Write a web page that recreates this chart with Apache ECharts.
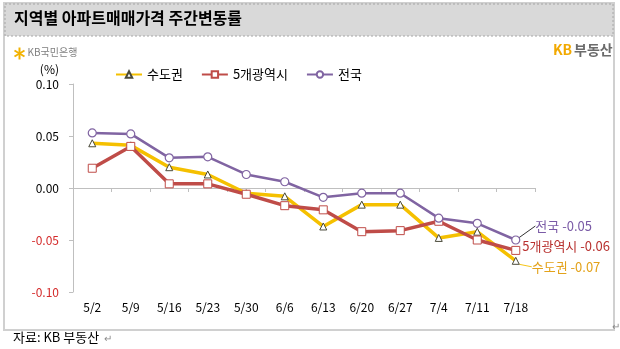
<!DOCTYPE html>
<html>
<head>
<meta charset="utf-8">
<script src="https://cdn.jsdelivr.net/npm/echarts@6/dist/echarts.min.js"></script>
<style>
  html, body { margin: 0; padding: 0; background: #ffffff; }
  #chart { width: 620px; height: 349px; }
</style>
</head>
<body>
<div id="chart"></div>
<script>
// Weekly apartment price change rate by region (%)
const weeks = ['5/2', '5/9', '5/16', '5/23', '5/30', '6/6', '6/13', '6/20', '6/27', '7/4', '7/11', '7/18'];
const capitalArea = [0.043, 0.041, 0.020, 0.013, -0.005, -0.008, -0.037, -0.016, -0.016, -0.048, -0.042, -0.07];
const metroCities = [0.019, 0.040, 0.004, 0.004, -0.006, -0.017, -0.021, -0.042, -0.041, -0.032, -0.050, -0.06];
const nationwide = [0.053, 0.052, 0.029, 0.030, 0.013, 0.006, -0.009, -0.005, -0.005, -0.029, -0.034, -0.05];
const seriesNames = ['수도권', '5개광역시', '전국'];
const yMin = -0.10, yMax = 0.10, yStep = 0.05;

const FONT = '"Noto Sans CJK KR", "Noto Sans", sans-serif';

// Attach a text label to the final week of a series
function withEndLabel(values, name, textColor) {
  return values.map((v, i) => {
    if (i !== values.length - 1) return v;
    return {
      value: v,
      label: {
        show: true,
        position: 'right',
        distance: 4,
        formatter: name + ' ' + v.toFixed(2),
        color: textColor,
        fontSize: 13,
        fontFamily: FONT
      }
    };
  });
}

const chart = echarts.init(document.getElementById('chart'), null, { renderer: 'canvas' });

const option = {
  animation: false,
  backgroundColor: '#ffffff',
  textStyle: { fontFamily: FONT },
  grid: { left: 73, right: 85, top: 84, bottom: 57 },
  legend: {
    top: 63,
    left: 110,
    itemWidth: 26,
    itemHeight: 8,
    itemGap: 18,
    textStyle: { fontSize: 13, color: '#000', fontFamily: FONT },
    data: seriesNames
  },
  xAxis: [
    {
      type: 'category',
      data: weeks,
      position: 'bottom',
      axisLine: { onZero: true, lineStyle: { color: '#bfbfbf', width: 1 } },
      axisTick: { show: true, length: 4, lineStyle: { color: '#bfbfbf' } },
      axisLabel: { show: false }
    },
    {
      type: 'category',
      data: weeks,
      position: 'bottom',
      axisLine: { show: false, onZero: false },
      axisTick: { show: false },
      axisLabel: { show: true, margin: 9, fontSize: 12, color: '#000', fontFamily: FONT }
    }
  ],
  yAxis: {
    type: 'value',
    min: yMin,
    max: yMax,
    interval: yStep,
    name: '(%)',
    nameLocation: 'end',
    nameGap: 9,
    nameTextStyle: { fontSize: 12, color: '#000', align: 'right', padding: [0, 14, 0, 0] },
    axisLine: { show: true, lineStyle: { color: '#bfbfbf', width: 1 } },
    axisTick: { show: true, length: 4, lineStyle: { color: '#bfbfbf' } },
    splitLine: { show: false },
    axisLabel: {
      margin: 14,
      fontSize: 12,
      fontFamily: FONT,
      formatter: v => v.toFixed(2),
      color: v => (v < 0 ? '#d42a2a' : '#000')
    }
  },
  series: [
    {
      name: '수도권',
      type: 'line',
      xAxisIndex: 0,
      data: withEndLabel(capitalArea, '수도권', '#e3a21a'),
      labelLayout: { dx: 8, dy: 6 },
      labelLine: { show: true, lineStyle: { color: '#f5c518', width: 1 } },
      symbol: 'triangle',
      symbolSize: 7,
      lineStyle: { color: '#f5c000', width: 3.5 },
      itemStyle: { color: '#ffffff', borderColor: '#4a4a3a', borderWidth: 1 },
      z: 3
    },
    {
      name: '5개광역시',
      type: 'line',
      xAxisIndex: 0,
      data: withEndLabel(metroCities, '5개광역시', '#b8312f'),
      labelLayout: { dx: -2, dy: -4 },
      labelLine: { show: false },
      symbol: 'rect',
      symbolSize: 8,
      lineStyle: { color: '#bf4c48', width: 3.5 },
      itemStyle: { color: '#ffffff', borderColor: '#bf4c48', borderWidth: 1 },
      z: 4
    },
    {
      name: '전국',
      type: 'line',
      xAxisIndex: 0,
      data: withEndLabel(nationwide, '전국', '#7a5aa6'),
      labelLayout: { dx: 11, dy: -14 },
      labelLine: { show: true, lineStyle: { color: '#333333', width: 1 } },
      symbol: 'circle',
      symbolSize: 8,
      lineStyle: { color: '#8064a2', width: 2.5 },
      itemStyle: { color: '#ffffff', borderColor: '#8064a2', borderWidth: 1.2 },
      z: 5
    }
  ],
  graphic: [
    // outer frame
    { type: 'rect', silent: true, z: -10, shape: { x: 4, y: 3, width: 610, height: 327 },
      style: { fill: '#ffffff', stroke: '#d0d0d0', lineWidth: 2 } },
    // title band
    { type: 'rect', silent: true, z: -9, shape: { x: 5, y: 4, width: 608, height: 32 },
      style: { fill: '#d9d9d9', stroke: '#a6a6a6', lineWidth: 1, lineDash: [2, 2] } },
    { type: 'text', silent: true, left: 14, top: 10,
      style: { text: '지역별 아파트매매가격 주간변동률', font: 'bold 16px ' + FONT, fill: '#000' } },
    // bank logo
    { type: 'group', left: 12, top: 45, children: [
      { type: 'line', shape: { x1: 5, y1: 0, x2: 5, y2: 12 }, style: { stroke: '#f2b200', lineWidth: 2 } },
      { type: 'line', shape: { x1: 0, y1: 3, x2: 10, y2: 9 }, style: { stroke: '#f2b200', lineWidth: 2 } },
      { type: 'line', shape: { x1: 0, y1: 9, x2: 10, y2: 3 }, style: { stroke: '#f2b200', lineWidth: 2 } },
      { type: 'text', left: 13, top: 0, style: { text: 'KB국민은행', font: '10px ' + FONT, fill: '#7f7f7f' } }
    ] },
    // real-estate brand
    { type: 'text', silent: true, left: 553, top: 43,
      style: { text: 'KB', font: 'bold 14px ' + FONT, fill: '#f2a900' } },
    { type: 'text', silent: true, left: 574, top: 43,
      style: { text: '부동산', font: 'bold 14px ' + FONT, fill: '#6b6b6b' } },
    // source note
    { type: 'text', silent: true, left: 13, top: 331,
      style: { text: '자료: KB 부동산', font: '13px ' + FONT, fill: '#000' } },
    { type: 'text', silent: true, left: 104, top: 333,
      style: { text: '↵', font: '10px ' + FONT, fill: '#8a8a8a' } },
    { type: 'text', silent: true, left: 612, top: 321,
      style: { text: '↵', font: '10px ' + FONT, fill: '#8a8a8a' } }
  ]
};

chart.setOption(option);
</script>
</body>
</html>
